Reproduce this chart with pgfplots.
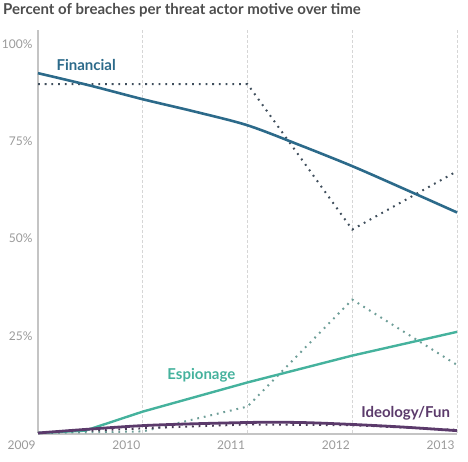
\documentclass[border=0pt]{standalone}
\usepackage{pgfplots}
\pgfplotsset{compat=1.18}
\usepackage{fontspec}
\setmainfont{Lato}
\definecolor{fin}{HTML}{2C6A8A}
\definecolor{esp}{HTML}{45B29D}
\definecolor{ideo}{HTML}{5B3A6B}
\definecolor{findot}{HTML}{3F4E5C}
\definecolor{espdot}{HTML}{6E9E98}
\definecolor{ideodot}{HTML}{4A3A55}
\definecolor{titlegray}{HTML}{4D4D4D}
\definecolor{tickgray}{HTML}{9A9A9A}
\definecolor{axisgray}{HTML}{C4C4C4}
\definecolor{gridgray}{HTML}{D6D6D6}
\begin{document}
\begin{tikzpicture}
\path[use as bounding box] (0,0) rectangle (468pt,461pt);
\node[anchor=west, text=titlegray, font=\fontsize{15}{17}\selectfont\bfseries, inner sep=0pt] at (3pt,451pt) {Percent of breaches per threat actor motive over time};
\begin{axis}[
  at={(38pt,28pt)}, anchor=south west,
  scale only axis, width=419pt, height=403pt,
  xmin=2009, xmax=2013, ymin=0, ymax=103.6,
  clip=false,
  axis line style={draw=none},
  xtick={2009,2010,2011,2012,2013},
  xticklabels={2009,2010,2011,2012,2013},
  ytick={25,50,75,100},
  yticklabels={25\%,50\%,75\%,100\%},
  major tick length=0pt,
  tick style={draw=none},
  ticklabel style={text=tickgray, font=\fontsize{12}{14}\selectfont},
  x tick label style={anchor=north east, xshift=1pt, yshift=-4pt},
  y tick label style={anchor=east, xshift=-2pt},
  /pgf/number format/assume math mode=true,
]
% grid lines
\addplot[gridgray, line width=0.7pt, dash pattern=on 3pt off 2pt] coordinates {(2010,0) (2010,103.6)};
\addplot[gridgray, line width=0.7pt, dash pattern=on 3pt off 2pt] coordinates {(2011,0) (2011,103.6)};
\addplot[gridgray, line width=0.7pt, dash pattern=on 3pt off 2pt] coordinates {(2012,0) (2012,103.6)};
\addplot[gridgray, line width=0.7pt, dash pattern=on 3pt off 2pt] coordinates {(2013,0) (2013,103.6)};
% axis lines
\addplot[axisgray, line width=2pt] coordinates {(2009,0) (2009,103.6)};
\addplot[axisgray, line width=1.8pt] coordinates {(2009,-0.3) (2013,-0.3)};
% dotted actual values
\addplot[findot, line width=2pt, dash pattern=on 1.8pt off 4.9pt] coordinates {(2009,89.7) (2011,89.7) (2012,52.3) (2013,67.3)};
\addplot[espdot, line width=2pt, dash pattern=on 1.8pt off 4.9pt] coordinates {(2009,0) (2010,0.4) (2011,6.8) (2012,34.3) (2013,17.5)};
\addplot[ideodot, line width=2pt, dash pattern=on 1.8pt off 4.9pt] coordinates {(2009,0) (2010,1.2) (2011,2.2) (2012,2.0) (2013,0.8)};
% trend lines
\addplot[fin, line width=2.6pt, smooth] coordinates {(2009,92.5) (2009.5,89.3) (2010,85.8) (2010.5,82.6) (2011,79.1) (2011.5,74.0) (2012,68.6) (2012.5,62.7) (2013,56.7)};
\addplot[esp, line width=2.4pt] coordinates {(2009,0) (2009.45,0.6) (2010,5.5) (2011,13.0) (2012,19.9) (2013,26.0)};
\addplot[ideo, line width=2.8pt, smooth] coordinates {(2009,0) (2010,1.9) (2011,2.7) (2011.5,2.7) (2012,2.2) (2012.5,1.5) (2013,0.6)};
% labels
\node[text=fin, font=\fontsize{15}{17}\selectfont\bfseries] at (axis cs:2009.46,94.6) {Financial};
\node[text=esp, font=\fontsize{15}{17}\selectfont\bfseries] at (axis cs:2010.56,14.9) {Espionage};
\node[text=ideo, font=\fontsize{15}{17}\selectfont\bfseries] at (axis cs:2012.51,5.1) {Ideology/Fun};
\end{axis}
\end{tikzpicture}
\end{document}
